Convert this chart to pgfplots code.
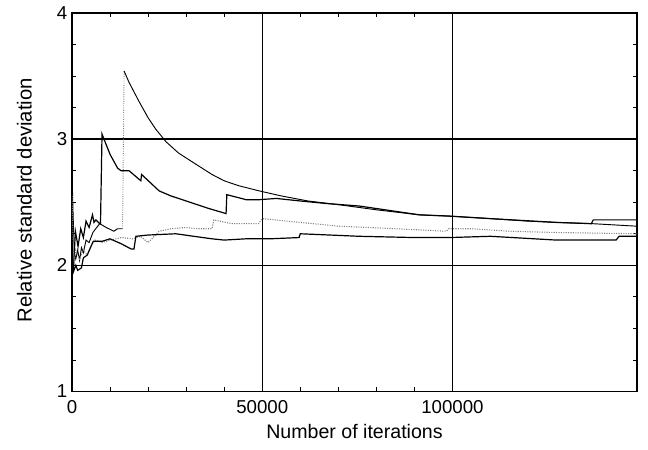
\documentclass[border=0pt]{standalone}
\usepackage{pgfplots}
\pgfplotsset{compat=1.18}
\usepackage{fontspec}
\setmainfont{Liberation Sans}
\begin{document}
\begin{tikzpicture}
\begin{axis}[
  scale only axis,
  width=424pt, height=284pt,
  xmin=0, xmax=148500, ymin=1, ymax=4,
  xtick={0,50000,100000}, ytick={1,2,3,4},
  minor x tick num=4, minor y tick num=3,
  scaled x ticks=false,
  xticklabels={0,50000,100000},
  tick align=inside,
  major tick length=0pt, minor tick length=3pt,
  grid=major,
  major grid style={black, line width=1pt},
  axis line style={line width=1pt},
  tick style={black, line width=0.6pt},
  /pgf/number format/assume math mode=true,
  tick label style={font=\fontsize{14}{16}\selectfont},
  xlabel={Number of iterations},
  ylabel={Relative standard deviation},
  xlabel style={font=\fontsize{14.7}{16}\selectfont, yshift=-1pt},
  ylabel style={font=\fontsize{15.2}{17}\selectfont, yshift=12pt, xshift=1.5pt},
  xticklabel style={yshift=-3pt},
]
% Curve A (peak 3.55)
\addplot[black, line width=0.7pt] coordinates {
(0,2.75) (300,2.40) (600,2.10) (1000,2.05) (1500,2.12) (2000,2.04) (2500,2.14) (3000,2.10) (3700,2.20)
(4500,2.18) (5500,2.26) (6500,2.30) (7300,2.33) (9000,2.30) (11000,2.27) (12000,2.29) (12800,2.29) (13300,2.29)};
\addplot[gray, densely dotted, line width=0.7pt] coordinates {(13300,2.29) (13700,3.54)};
\addplot[black, line width=0.7pt] coordinates {
(13700,3.54) (15000,3.45) (17600,3.30) (20000,3.17) (22000,3.08) (24700,2.98) (28000,2.89) (31600,2.82)
(36800,2.72) (40000,2.67) (43900,2.63) (49200,2.59) (55000,2.55) (62000,2.51) (70200,2.48) (80000,2.44)
(91300,2.40) (99200,2.39) (110000,2.37) (120000,2.35) (127300,2.34) (136800,2.33) (148500,2.31)};
% Curve B (peak 3.03)
\addplot[black, line width=0.9pt] coordinates {
(0,2.05) (400,1.97) (900,2.27) (1600,2.15) (2300,2.29) (3000,2.22) (3700,2.35) (4500,2.30) (5400,2.40)
(5800,2.34) (6300,2.36) (7300,2.33) (7500,2.33) (7900,3.04) (10000,2.88) (12000,2.77) (12900,2.75) (15000,2.75)
(18100,2.67) (18300,2.72) (22900,2.59) (26000,2.55) (30000,2.51) (36000,2.45) (40500,2.41) (40700,2.56)
(45800,2.52) (49200,2.52) (53700,2.53) (60000,2.51) (66800,2.49) (75500,2.47) (91300,2.40) (99200,2.39)
(110000,2.37) (127300,2.34) (136500,2.33) (137000,2.36) (148500,2.36)};
% Curve C (dotted)
\addplot[gray, densely dotted, line width=0.8pt] coordinates {
(0,2.55) (500,2.00) (1000,2.12) (2000,2.05) (3000,2.12) (4000,2.08) (5000,2.15) (6000,2.20) (8000,2.18)
(10000,2.20) (13000,2.22) (16000,2.21) (18000,2.23) (20000,2.18) (22900,2.27) (26000,2.29) (30000,2.30)
(33000,2.29) (36800,2.29) (37300,2.36) (42000,2.33) (49000,2.33) (50000,2.37) (60000,2.34) (70200,2.31)
(85000,2.29) (98400,2.27) (99000,2.29) (105000,2.29) (115000,2.27) (127300,2.26) (148500,2.25)};
% Curve D (lowest)
\addplot[black, line width=0.9pt] coordinates {
(0,2.20) (400,1.95) (1000,2.00) (1500,1.96) (2500,1.98) (3000,2.06) (4000,2.08) (5000,2.15) (5600,2.19)
(7900,2.19) (10000,2.21) (13000,2.17) (15500,2.13) (16300,2.13) (16800,2.23) (20000,2.24) (27300,2.25)
(32000,2.23) (36800,2.21) (40000,2.20) (45700,2.21) (52000,2.21) (59700,2.22) (60000,2.25) (75500,2.23)
(90000,2.22) (99200,2.22) (110000,2.23) (127300,2.20) (143000,2.20) (143800,2.23) (148500,2.23)};
\end{axis}
\pgfresetboundingbox
\path ([shift={(-54pt,-43.5pt)}]current axis.south west) rectangle ([shift={(8.25pt,9.75pt)}]current axis.north east);
\end{tikzpicture}
\end{document}
